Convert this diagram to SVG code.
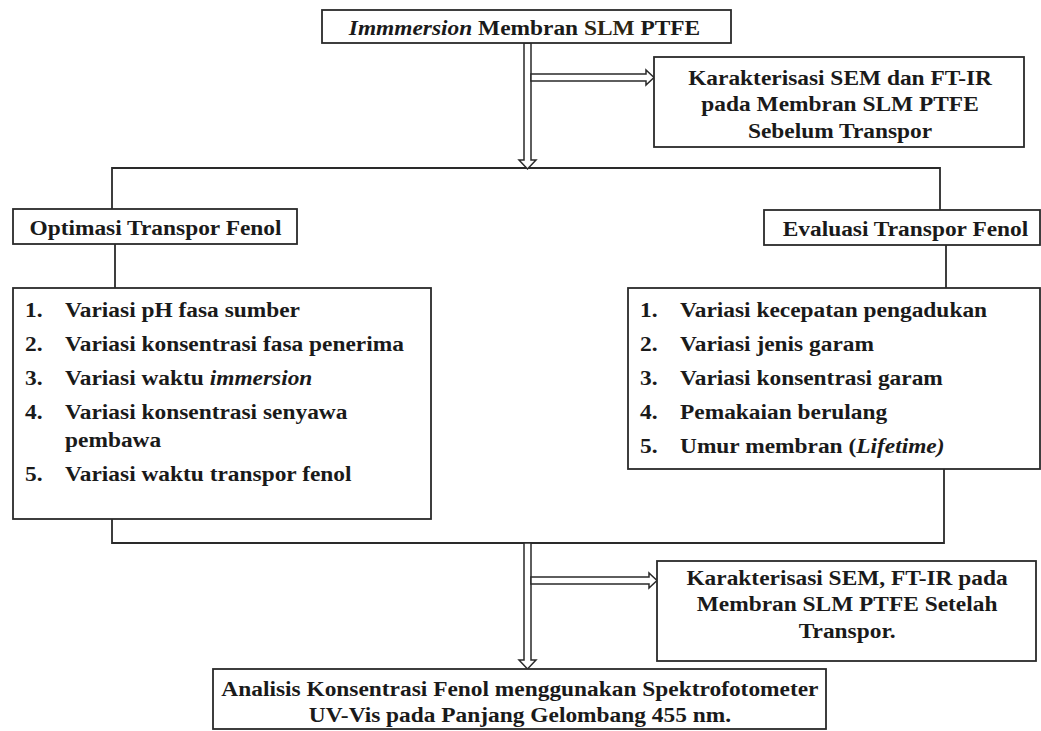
<svg xmlns="http://www.w3.org/2000/svg" width="1041" height="731" viewBox="0 0 1041 731">
<style>
.box{fill:#fff;stroke:#2a2a2a;stroke-width:1.8}
.ln{fill:none;stroke:#2a2a2a;stroke-width:1.8}
.arr{fill:#fff;stroke:#2a2a2a;stroke-width:1.5;stroke-linejoin:miter}
.t{font-family:"Liberation Serif","Times New Roman",serif;font-weight:bold;font-size:20px;fill:#1a1a1a}
.c{text-anchor:middle}
.i{font-style:italic}
</style>
<rect width="1041" height="731" fill="#fff"/>
<g id="connectors">
<path class="ln" d="M112,209 V168 H940 V210"/>
<path class="ln" d="M115,244 V288"/>
<path class="ln" d="M946,245 V288"/>
<path class="ln" d="M112,519 V543 H944 V469"/>
<polygon class="arr" points="524,43 524,160 519,160 527.5,169 536,160 531,160 531,43"/>
<polygon class="arr" points="531,74 646,74 646,70 654,77.5 646,85 646,81 531,81"/>
<polygon class="arr" points="524,543 524,660 519,660 527.5,669 536,660 531,660 531,543"/>
<polygon class="arr" points="531,577 649,577 649,573 657,580.5 649,588 649,584 531,584"/>
</g>
<g id="n-immersion">
<rect class="box" x="322" y="10" width="409" height="33"/>
<text class="t c" transform="scale(1.17,1)" x="448.3" y="35"><tspan class="i">Immmersion</tspan> Membran <tspan fill="#2e2612">SLM</tspan> PTFE</text>
</g>
<g id="n-karak1">
<rect class="box" x="654" y="57" width="370" height="90"/>
<text class="t c" transform="scale(1.17,1)"><tspan x="718" y="85">Karakterisasi SEM dan FT-IR</tspan><tspan x="718" y="111">pada Membran SLM PTFE</tspan><tspan x="718" y="138">Sebelum Transpor</tspan></text>
</g>
<g id="n-optimasi">
<rect class="box" x="13" y="209" width="284" height="35"/>
<text class="t c" transform="scale(1.17,1)" x="132.9" y="235">Optimasi Transpor Fenol</text>
</g>
<g id="n-evaluasi">
<rect class="box" x="764" y="210" width="276" height="35"/>
<text class="t c" transform="scale(1.17,1)" x="773.9" y="236">Evaluasi Transpor Fenol</text>
</g>
<g id="n-list-optimasi">
<rect class="box" x="13" y="288" width="418" height="231"/>
<text class="t" transform="scale(1.17,1)">
<tspan x="21.4" y="317">1.</tspan><tspan x="55.6" y="317">Variasi pH fasa sumber</tspan>
<tspan x="21.4" y="351">2.</tspan><tspan x="55.6" y="351">Variasi konsentrasi fasa penerima</tspan>
<tspan x="21.4" y="385">3.</tspan><tspan x="55.6" y="385">Variasi waktu <tspan class="i">immersion</tspan></tspan>
<tspan x="21.4" y="419">4.</tspan><tspan x="55.6" y="419">Variasi konsentrasi senyawa</tspan>
<tspan x="55.6" y="447">pembawa</tspan>
<tspan x="21.4" y="481">5.</tspan><tspan x="55.6" y="481">Variasi waktu transpor fenol</tspan>
</text>
</g>
<g id="n-list-evaluasi">
<rect class="box" x="628" y="288" width="412" height="181"/>
<text class="t" transform="scale(1.17,1)">
<tspan x="547" y="317">1.</tspan><tspan x="581.2" y="317">Variasi kecepatan pengadukan</tspan>
<tspan x="547" y="351">2.</tspan><tspan x="581.2" y="351">Variasi jenis garam</tspan>
<tspan x="547" y="385">3.</tspan><tspan x="581.2" y="385">Variasi konsentrasi garam</tspan>
<tspan x="547" y="419">4.</tspan><tspan x="581.2" y="419">Pemakaian berulang</tspan>
<tspan x="547" y="453">5.</tspan><tspan x="581.2" y="453">Umur membran (<tspan class="i">Lifetime)</tspan></tspan>
</text>
</g>
<g id="n-karak2">
<rect class="box" x="657" y="561" width="379" height="100"/>
<text class="t c" transform="scale(1.17,1)"><tspan x="724" y="585">Karakterisasi SEM, FT-IR pada</tspan><tspan x="724" y="611">Membran SLM PTFE Setelah</tspan><tspan x="724" y="638">Transpor.</tspan></text>
</g>
<g id="n-analisis">
<rect class="box" x="213" y="669" width="613" height="60"/>
<text class="t c" transform="scale(1.17,1)"><tspan x="444.4" y="696">Analisis Konsentrasi Fenol menggunakan Spektrofotometer</tspan><tspan x="444.4" y="722">UV-Vis pada Panjang Gelombang 455 nm.</tspan></text>
</g>
</svg>
